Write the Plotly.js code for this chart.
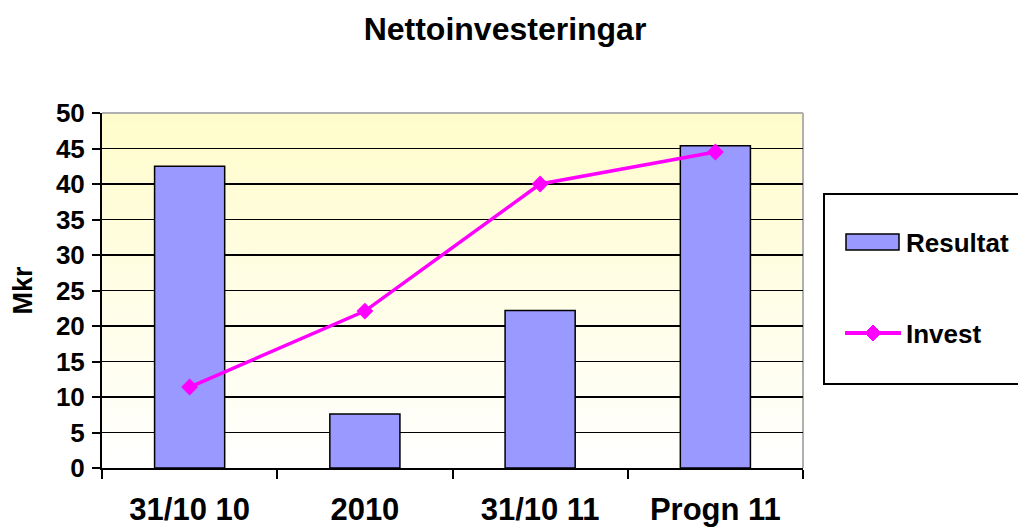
<!DOCTYPE html>
<html>
<head>
<meta charset="utf-8">
<script src="https://cdn.plot.ly/plotly-3.0.1.min.js"></script>
<style>html,body{margin:0;padding:0;background:#fff;}#chart{width:1018px;height:532px;}</style>
</head>
<body>
<div id="chart"></div>
<script>
const categories = ["31/10 10", "2010", "31/10 11", "Progn 11"];
const resultat = [42.5, 7.6, 22.2, 45.4];
const invest = [11.4, 22.1, 40.0, 44.5];
const seriesNames = ["Resultat", "Invest"];

const FONT = "Arial, 'Liberation Sans', sans-serif";
const L = 102, R = 803, T = 113, B = 468;
const W = 1018, H = 532;
const px = x => (x - L) / (R - L);
const py = y => (B - y) / (B - T);

const gradSvg = '<svg xmlns="http://www.w3.org/2000/svg" width="10" height="100" preserveAspectRatio="none">' +
  '<defs><linearGradient id="g" x1="0" y1="0" x2="0" y2="1">' +
  '<stop offset="0" stop-color="#FFFCCB"/><stop offset="1" stop-color="#FFFFFF"/></linearGradient></defs>' +
  '<rect width="10" height="100" fill="url(#g)"/></svg>';
const gradUri = 'data:image/svg+xml;base64,' + btoa(gradSvg);

const traces = [
  {
    type: 'bar', x: categories, y: resultat, name: seriesNames[0],
    marker: {color: '#9999FF', line: {color: '#000000', width: 1.5}},
    showlegend: false, hoverinfo: 'x+y'
  },
  {
    type: 'scatter', mode: 'lines+markers', x: categories, y: invest, name: seriesNames[1],
    line: {color: '#FF00FF', width: 3.5},
    marker: {symbol: 'diamond', size: 13, color: '#FF00FF'},
    showlegend: false, cliponaxis: false
  }
];

const layout = {
  width: W, height: H,
  margin: {l: L, r: W - R, t: T, b: H - B},
  paper_bgcolor: '#ffffff',
  plot_bgcolor: 'rgba(0,0,0,0)',
  font: {family: FONT, color: '#000'},
  title: {
    text: '<b>Nettoinvesteringar</b>',
    font: {family: FONT, size: 32, color: '#000'},
    x: 505 / W, xanchor: 'center', xref: 'container',
    y: 1 - 29 / H, yanchor: 'middle', yref: 'container'
  },
  bargap: 0.6,
  xaxis: {
    type: 'category',
    tickson: 'boundaries',
    ticks: 'outside', ticklen: 9, tickwidth: 2, tickcolor: '#000',
    showline: true, linecolor: '#000', linewidth: 2,
    showgrid: false, zeroline: false,
    tickfont: {family: FONT, size: 31, color: '#000', weight: 'bold'},
    ticklabelstandoff: 13,
    fixedrange: true
  },
  yaxis: {
    range: [0, 50], dtick: 5, tick0: 0,
    ticks: 'outside', ticklen: 8, tickwidth: 2, tickcolor: '#000',
    showline: true, linecolor: '#000', linewidth: 2,
    showgrid: true, gridcolor: '#000', gridwidth: 1.5,
    zeroline: false,
    tickfont: {family: FONT, size: 26, color: '#000', weight: 'bold'},
    ticklabelstandoff: 2,
    title: {text: '<b>Mkr</b>', font: {family: FONT, size: 27, color: '#000'}, standoff: 15},
    fixedrange: true
  },
  images: [{
    source: gradUri, xref: 'paper', yref: 'paper', x: 0, y: 1, sizex: 1, sizey: 1,
    xanchor: 'left', yanchor: 'top', sizing: 'stretch', layer: 'below'
  }],
  shapes: [
    {type: 'line', xref: 'paper', yref: 'paper', x0: 0, x1: 1, y0: 1, y1: 1, line: {color: '#B0B0B0', width: 2}, layer: 'above'},
    {type: 'line', xref: 'paper', yref: 'paper', x0: 1, x1: 1, y0: 0, y1: 1, line: {color: '#B0B0B0', width: 2}, layer: 'below'},
    {type: 'rect', xref: 'paper', yref: 'paper', x0: px(824), x1: px(1025), y0: py(194), y1: py(384), line: {color: '#000', width: 2}, fillcolor: '#fff', layer: 'above'},
    {type: 'rect', xref: 'paper', yref: 'paper', x0: px(846), x1: px(899), y0: py(234), y1: py(250), line: {color: '#000', width: 1.5}, fillcolor: '#9999FF', layer: 'above'},
    {type: 'line', xref: 'paper', yref: 'paper', x0: px(845), x1: px(901), y0: py(333), y1: py(333), line: {color: '#FF00FF', width: 4}, layer: 'above'},
    {type: 'path', xref: 'paper', yref: 'paper',
     path: 'M ' + px(873) + ' ' + py(325) + ' L ' + px(881) + ' ' + py(333) + ' L ' + px(873) + ' ' + py(341) + ' L ' + px(865) + ' ' + py(333) + ' Z',
     line: {color: '#FF00FF', width: 1}, fillcolor: '#FF00FF', layer: 'above'}
  ],
  annotations: [
    {xref: 'paper', yref: 'paper', x: px(904), y: py(243), xanchor: 'left', yanchor: 'middle', showarrow: false,
     text: '<b>' + seriesNames[0] + '</b>', font: {family: FONT, size: 26, color: '#000'}},
    {xref: 'paper', yref: 'paper', x: px(904), y: py(334), xanchor: 'left', yanchor: 'middle', showarrow: false,
     text: '<b>' + seriesNames[1] + '</b>', font: {family: FONT, size: 26, color: '#000'}}
  ],
  showlegend: false
};

Plotly.newPlot('chart', traces, layout, {displayModeBar: false, staticPlot: true});
</script>
</body>
</html>
